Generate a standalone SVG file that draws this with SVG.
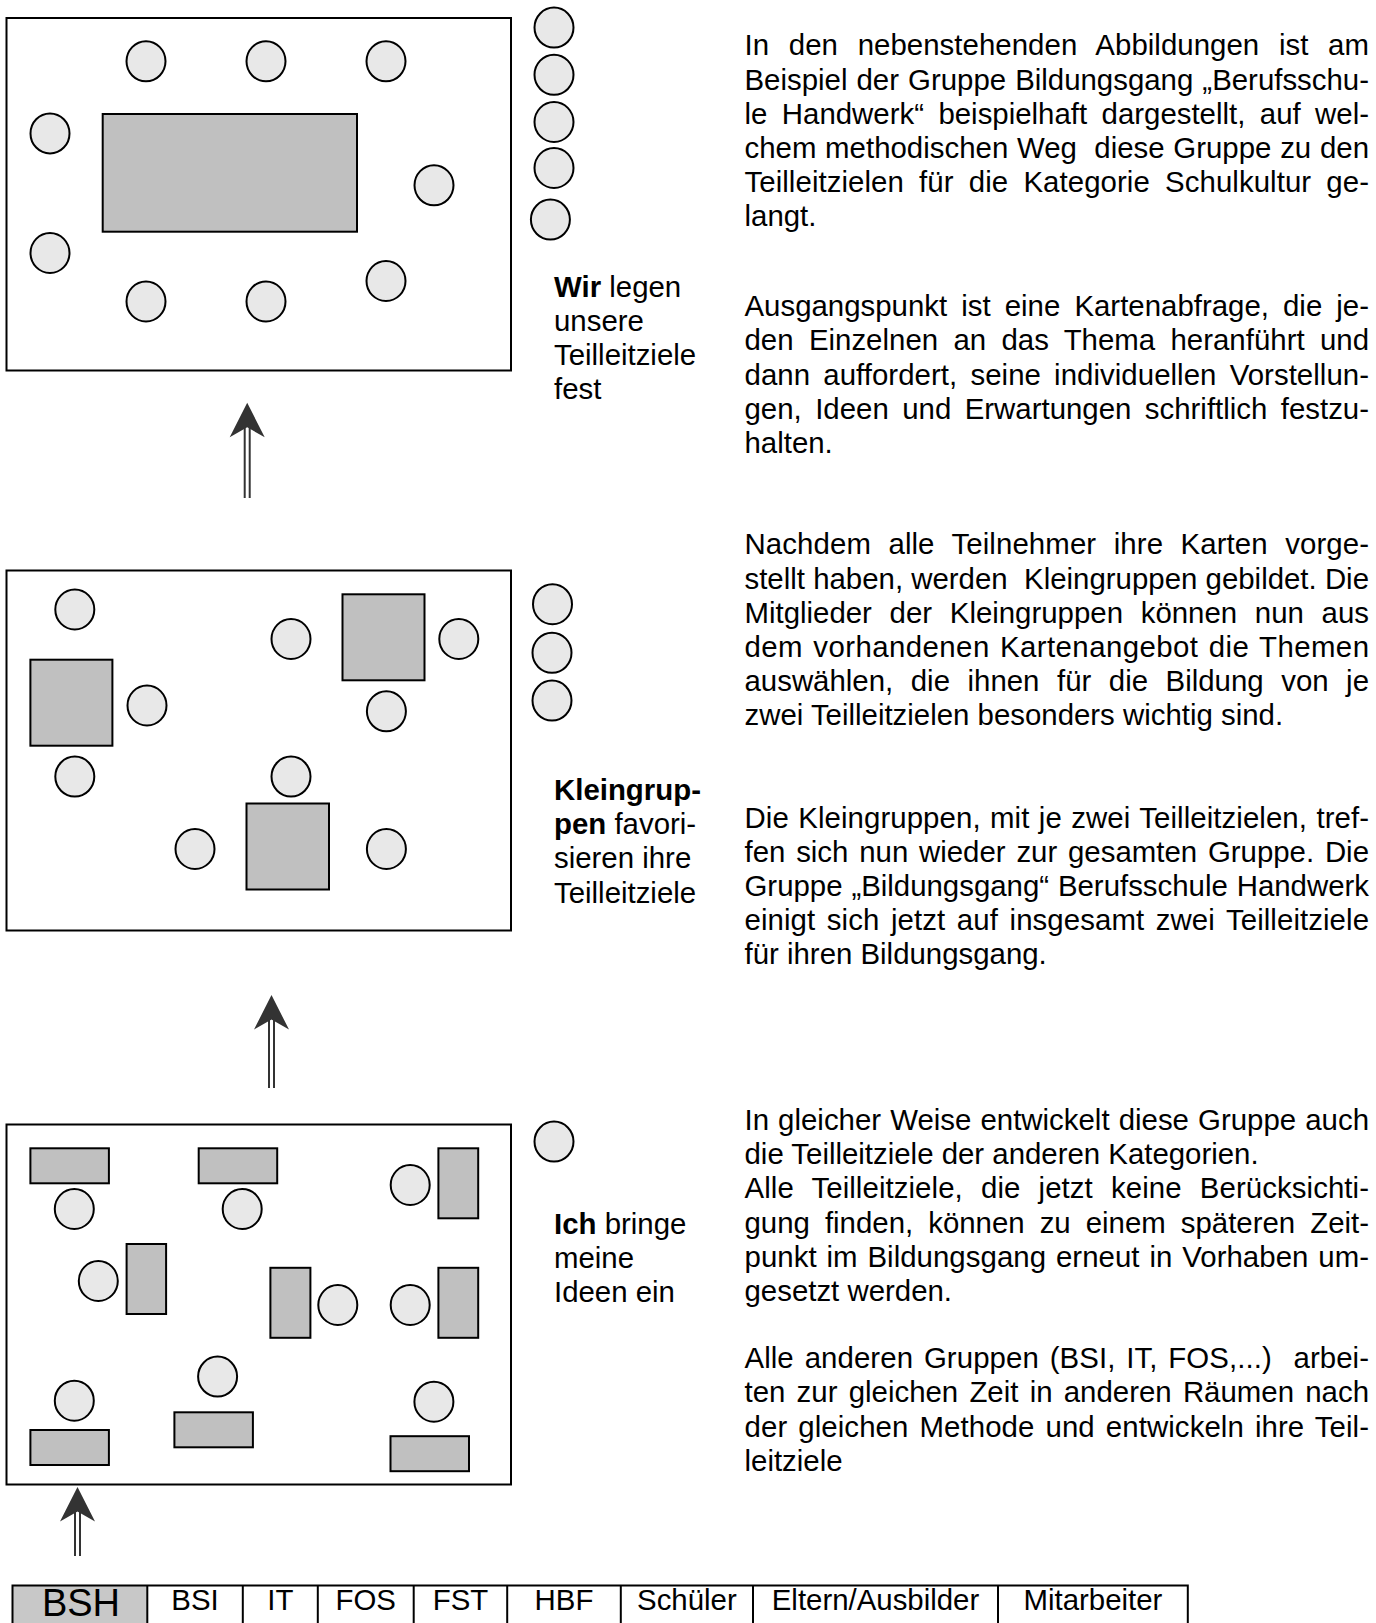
<svg xmlns="http://www.w3.org/2000/svg" width="1376" height="1623" viewBox="0 0 1376 1623">
<style>
.room{fill:#fff;stroke:#000;stroke-width:2}
.p{fill:#e8e8e8;stroke:#000;stroke-width:2}
.t{fill:#c0c0c0;stroke:#000;stroke-width:2}
.txt{font-family:"Liberation Sans",Arial,sans-serif;font-size:29.4px;fill:#000}
.b{font-weight:bold}
.cell{fill:none;stroke:#000;stroke-width:2}
.lbl{font-family:"Liberation Sans",Arial,sans-serif;font-size:29.4px;fill:#000;text-anchor:middle}
.shaft{stroke:#333;stroke-width:2;fill:none}
.head{fill:#333;stroke:none}
</style>
<defs>
<g id="arrowhead"><polygon class="head" points="0,0 17.5,34.6 0,24.6 -17.5,34.6"/></g>
</defs>
<rect width="1376" height="1623" fill="#fff"/>

<g id="room-wir">
<rect class="room" x="6.5" y="18" width="504.5" height="352.5"/>
<rect class="t" x="102.7" y="114" width="254.3" height="117.7"/>
<ellipse class="p" cx="146" cy="61.3" rx="19.5" ry="20"/>
<ellipse class="p" cx="266" cy="61.3" rx="19.5" ry="20"/>
<ellipse class="p" cx="386" cy="61.3" rx="19.5" ry="20"/>
<ellipse class="p" cx="50" cy="133.4" rx="19.5" ry="20"/>
<ellipse class="p" cx="50" cy="253" rx="19.5" ry="20"/>
<ellipse class="p" cx="434" cy="185.3" rx="19.5" ry="20"/>
<ellipse class="p" cx="146" cy="301.5" rx="19.5" ry="20"/>
<ellipse class="p" cx="266" cy="301.5" rx="19.5" ry="20"/>
<ellipse class="p" cx="386" cy="281" rx="19.5" ry="20"/>
</g>
<g id="queue-wir">
<ellipse class="p" cx="554" cy="27.6" rx="19.5" ry="20"/>
<ellipse class="p" cx="554" cy="74.8" rx="19.5" ry="20"/>
<ellipse class="p" cx="554" cy="122" rx="19.5" ry="20"/>
<ellipse class="p" cx="554" cy="168" rx="19.5" ry="20"/>
<ellipse class="p" cx="550.4" cy="219.6" rx="19.5" ry="20"/>
</g>
<g id="label-wir" class="txt">
<text x="554" y="296.5"><tspan class="b">Wir</tspan> legen</text>
<text x="554" y="330.7">unsere</text>
<text x="554" y="364.8">Teilleitziele</text>
<text x="554" y="399">fest</text>
</g>

<g id="room-klein">
<rect class="room" x="6.5" y="570.5" width="504.5" height="360"/>
<rect class="t" x="30.4" y="659.7" width="82" height="86"/>
<rect class="t" x="342.5" y="594.3" width="82" height="86"/>
<rect class="t" x="246.5" y="803.5" width="82.5" height="86"/>
<ellipse class="p" cx="74.8" cy="609.5" rx="19.5" ry="20"/>
<ellipse class="p" cx="291" cy="639" rx="19.5" ry="20"/>
<ellipse class="p" cx="458.8" cy="639" rx="19.5" ry="20"/>
<ellipse class="p" cx="147" cy="705.5" rx="19.5" ry="20"/>
<ellipse class="p" cx="386.4" cy="711.3" rx="19.5" ry="20"/>
<ellipse class="p" cx="74.8" cy="776.6" rx="19.5" ry="20"/>
<ellipse class="p" cx="291" cy="776.6" rx="19.5" ry="20"/>
<ellipse class="p" cx="195" cy="849" rx="19.5" ry="20"/>
<ellipse class="p" cx="386.4" cy="849" rx="19.5" ry="20"/>
</g>
<g id="queue-klein">
<ellipse class="p" cx="552.5" cy="604.2" rx="19.5" ry="20"/>
<ellipse class="p" cx="552" cy="652.8" rx="19.5" ry="20"/>
<ellipse class="p" cx="552" cy="700.6" rx="19.5" ry="20"/>
</g>
<g id="label-klein" class="txt">
<text x="554" y="800" class="b">Kleingrup-</text>
<text x="554" y="834.2"><tspan class="b">pen</tspan> favori-</text>
<text x="554" y="868.3">sieren ihre</text>
<text x="554" y="902.5">Teilleitziele</text>
</g>

<g id="room-ich">
<rect class="room" x="6.5" y="1124.5" width="504.5" height="360"/>
<rect class="t" x="30.4" y="1148.3" width="78.5" height="35"/>
<rect class="t" x="198.7" y="1148.3" width="78.5" height="35"/>
<rect class="t" x="438.4" y="1148.3" width="39.8" height="70"/>
<rect class="t" x="126.6" y="1244" width="39.5" height="70"/>
<rect class="t" x="270.4" y="1267.8" width="40" height="70"/>
<rect class="t" x="438.4" y="1267.8" width="39.8" height="70"/>
<rect class="t" x="30.4" y="1430" width="78.5" height="35"/>
<rect class="t" x="174.4" y="1412.3" width="78.5" height="35"/>
<rect class="t" x="390.5" y="1436.2" width="78.5" height="35"/>
<ellipse class="p" cx="74.3" cy="1209" rx="19.5" ry="20"/>
<ellipse class="p" cx="242.2" cy="1209" rx="19.5" ry="20"/>
<ellipse class="p" cx="410.2" cy="1185" rx="19.5" ry="20"/>
<ellipse class="p" cx="98.3" cy="1281" rx="19.5" ry="20"/>
<ellipse class="p" cx="337.8" cy="1305" rx="19.5" ry="20"/>
<ellipse class="p" cx="410.2" cy="1305" rx="19.5" ry="20"/>
<ellipse class="p" cx="74.3" cy="1400.7" rx="19.5" ry="20"/>
<ellipse class="p" cx="217.6" cy="1376.6" rx="19.5" ry="20"/>
<ellipse class="p" cx="433.9" cy="1401.7" rx="19.5" ry="20"/>
</g>
<g id="queue-ich">
<ellipse class="p" cx="554" cy="1141.6" rx="19.5" ry="20"/>
</g>
<g id="label-ich" class="txt">
<text x="554" y="1233.5"><tspan class="b">Ich</tspan> bringe</text>
<text x="554" y="1267.7">meine</text>
<text x="554" y="1301.9">Ideen ein</text>
</g>

<g id="connectors">
<line class="shaft" x1="244.7" y1="428" x2="244.7" y2="498"/>
<line class="shaft" x1="249.7" y1="428" x2="249.7" y2="498"/>
<use href="#arrowhead" transform="translate(247.2,402.7)"/>
<line class="shaft" x1="269" y1="1020" x2="269" y2="1088"/>
<line class="shaft" x1="274" y1="1020" x2="274" y2="1088"/>
<use href="#arrowhead" transform="translate(271.5,995)"/>
<line class="shaft" x1="75" y1="1512" x2="75" y2="1556"/>
<line class="shaft" x1="80" y1="1512" x2="80" y2="1556"/>
<use href="#arrowhead" transform="translate(77.5,1487)"/>
</g>

<g id="text-1" class="txt">
<text x="744.5" y="55.3" word-spacing="11.47" textLength="624.5" lengthAdjust="spacing">In den nebenstehenden Abbildungen ist am</text>
<text x="744.5" y="89.5" word-spacing="0.89" textLength="624.5" lengthAdjust="spacing">Beispiel der Gruppe Bildungsgang „Berufsschu-</text>
<text x="744.5" y="123.6" word-spacing="6.28" textLength="624.5" lengthAdjust="spacing">le Handwerk“ beispielhaft dargestellt, auf wel-</text>
<text x="744.5" y="157.8" word-spacing="0.51" textLength="624.5" lengthAdjust="spacing" xml:space="preserve">chem methodischen Weg  diese Gruppe zu den</text>
<text x="744.5" y="192" word-spacing="6.93" textLength="624.5" lengthAdjust="spacing">Teilleitzielen für die Kategorie Schulkultur ge-</text>
<text x="744.5" y="226.1">langt.</text>
</g>
<g id="text-2" class="txt">
<text x="744.5" y="316.2" word-spacing="5.93" textLength="624.5" lengthAdjust="spacing">Ausgangspunkt ist eine Kartenabfrage, die je-</text>
<text x="744.5" y="350.4" word-spacing="7.12" textLength="624.5" lengthAdjust="spacing">den Einzelnen an das Thema heranführt und</text>
<text x="744.5" y="384.5" word-spacing="4.97" textLength="624.5" lengthAdjust="spacing">dann auffordert, seine individuellen Vorstellun-</text>
<text x="744.5" y="418.7" word-spacing="5.28" textLength="624.5" lengthAdjust="spacing">gen, Ideen und Erwartungen schriftlich festzu-</text>
<text x="744.5" y="452.9">halten.</text>
</g>
<g id="text-3" class="txt">
<text x="744.5" y="554.4" word-spacing="9.22" textLength="624.5" lengthAdjust="spacing">Nachdem alle Teilnehmer ihre Karten vorge-</text>
<text x="744.5" y="588.6" word-spacing="0.04" textLength="624.5" lengthAdjust="spacing" xml:space="preserve">stellt haben, werden  Kleingruppen gebildet. Die</text>
<text x="744.5" y="622.7" word-spacing="9.53" textLength="624.5" lengthAdjust="spacing">Mitglieder der Kleingruppen können nun aus</text>
<text x="744.5" y="656.9" word-spacing="1.69" textLength="624.5" lengthAdjust="spacing">dem vorhandenen Kartenangebot die Themen</text>
<text x="744.5" y="691.1" word-spacing="9.37" textLength="624.5" lengthAdjust="spacing">auswählen, die ihnen für die Bildung von je</text>
<text x="744.5" y="725.2">zwei Teilleitzielen besonders wichtig sind.</text>
</g>
<g id="text-4" class="txt">
<text x="744.5" y="827.7" word-spacing="1.15" textLength="624.5" lengthAdjust="spacing">Die Kleingruppen, mit je zwei Teilleitzielen, tref-</text>
<text x="744.5" y="861.9" word-spacing="2.61" textLength="624.5" lengthAdjust="spacing">fen sich nun wieder zur gesamten Gruppe. Die</text>
<text x="744.5" y="896" word-spacing="0.65" textLength="624.5" lengthAdjust="spacing">Gruppe „Bildungsgang“ Berufsschule Handwerk</text>
<text x="744.5" y="930.2" word-spacing="3.33" textLength="624.5" lengthAdjust="spacing">einigt sich jetzt auf insgesamt zwei Teilleitziele</text>
<text x="744.5" y="964.4">für ihren Bildungsgang.</text>
</g>
<g id="text-5" class="txt">
<text x="744.5" y="1130" word-spacing="0.87" textLength="624.5" lengthAdjust="spacing">In gleicher Weise entwickelt diese Gruppe auch</text>
<text x="744.5" y="1164.2">die Teilleitziele der anderen Kategorien.</text>
<text x="744.5" y="1198.4" word-spacing="9.88" textLength="624.5" lengthAdjust="spacing">Alle Teilleitziele, die jetzt keine Berücksichti-</text>
<text x="744.5" y="1232.5" word-spacing="6.85" textLength="624.5" lengthAdjust="spacing">gung finden, können zu einem späteren Zeit-</text>
<text x="744.5" y="1266.7" word-spacing="1.68" textLength="624.5" lengthAdjust="spacing">punkt im Bildungsgang erneut in Vorhaben um-</text>
<text x="744.5" y="1300.9">gesetzt werden.</text>
</g>
<g id="text-6" class="txt">
<text x="744.5" y="1368.2" word-spacing="2.61" textLength="624.5" lengthAdjust="spacing" xml:space="preserve">Alle anderen Gruppen (BSI, IT, FOS,...)  arbei-</text>
<text x="744.5" y="1402.4" word-spacing="3.07" textLength="624.5" lengthAdjust="spacing">ten zur gleichen Zeit in anderen Räumen nach</text>
<text x="744.5" y="1436.5" word-spacing="2.77" textLength="624.5" lengthAdjust="spacing">der gleichen Methode und entwickeln ihre Teil-</text>
<text x="744.5" y="1470.7">leitziele</text>
</g>

<g id="group-table">
<rect x="12.5" y="1585.5" width="134.8" height="60" fill="#c8c8c8"/>
<rect class="cell" x="12.5" y="1585.5" width="1175.3" height="60"/>
<line class="cell" x1="147.3" y1="1585.5" x2="147.3" y2="1645"/>
<line class="cell" x1="242.8" y1="1585.5" x2="242.8" y2="1645"/>
<line class="cell" x1="317.8" y1="1585.5" x2="317.8" y2="1645"/>
<line class="cell" x1="413.7" y1="1585.5" x2="413.7" y2="1645"/>
<line class="cell" x1="507.2" y1="1585.5" x2="507.2" y2="1645"/>
<line class="cell" x1="620.8" y1="1585.5" x2="620.8" y2="1645"/>
<line class="cell" x1="753" y1="1585.5" x2="753" y2="1645"/>
<line class="cell" x1="998" y1="1585.5" x2="998" y2="1645"/>
<text class="lbl" x="81" y="1616" style="font-size:38px">BSH</text>
<text class="lbl" x="195" y="1610">BSI</text>
<text class="lbl" x="280.3" y="1610">IT</text>
<text class="lbl" x="365.7" y="1610">FOS</text>
<text class="lbl" x="460.5" y="1610">FST</text>
<text class="lbl" x="564" y="1610">HBF</text>
<text class="lbl" x="686.9" y="1610">Schüler</text>
<text class="lbl" x="875.5" y="1610">Eltern/Ausbilder</text>
<text class="lbl" x="1092.9" y="1610">Mitarbeiter</text>
</g>
</svg>
